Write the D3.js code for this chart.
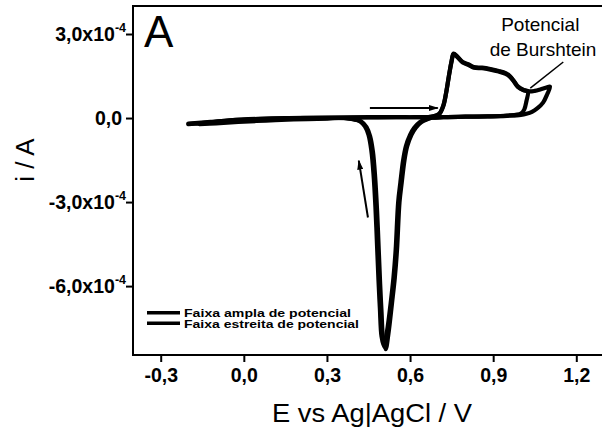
<!DOCTYPE html>
<html>
<head>
<meta charset="utf-8">
<script src="https://cdn.jsdelivr.net/npm/d3@7"></script>
<style>
  body { margin: 0; background: #fff; }
  svg { font-family: "Liberation Sans", Arial, sans-serif; }
  .tick-label { font-size: 19.5px; font-weight: bold; fill: #000; }
</style>
</head>
<body>
<svg id="chart" width="602" height="431"></svg>
<script>
/* cyclic voltammograms, current in units of 1e-4 A */

// wide potential window (-0.2 V .. 1.1 V)
const eWide = [-0.20, -0.12, -0.05, 0.05, 0.15, 0.25, 0.35, 0.45, 0.55, 0.62, 0.68, 0.705, 0.72, 0.73, 0.74, 0.75, 0.757, 0.77, 0.79, 0.81, 0.83, 0.86, 0.89, 0.92, 0.945, 0.96, 0.975, 0.99, 1.01, 1.03, 1.05, 1.07, 1.09, 1.105,
  1.095, 1.08, 1.06, 1.04, 1.02, 1.00, 0.95, 0.88, 0.80, 0.72, 0.68, 0.66, 0.64, 0.62, 0.605, 0.59, 0.58, 0.57, 0.562, 0.553, 0.545, 0.535, 0.522, 0.512, 0.503, 0.497, 0.492, 0.487, 0.481, 0.474, 0.466, 0.456, 0.443, 0.425, 0.40, 0.37, 0.30, 0.18, 0.08, -0.02, -0.10, -0.16, -0.20];
const iWide = [-0.22, -0.15, -0.08, -0.04, -0.01, 0.01, 0.02, 0.03, 0.03, 0.03, 0.05, 0.15, 0.45, 0.9, 1.5, 2.05, 2.3, 2.2, 2.0, 1.92, 1.82, 1.8, 1.75, 1.68, 1.6, 1.5, 1.32, 1.12, 1.0, 0.95, 0.97, 1.02, 1.08, 1.12,
  0.85, 0.55, 0.35, 0.22, 0.15, 0.11, 0.08, 0.06, 0.05, 0.03, 0.01, -0.05, -0.15, -0.35, -0.6, -1.0, -1.5, -2.3, -3.0, -4.7, -5.7, -6.6, -7.7, -8.25, -7.9, -6.9, -5.9, -4.7, -3.3, -2.1, -1.2, -0.65, -0.32, -0.13, -0.05, 0.0, -0.02, -0.05, -0.09, -0.14, -0.19, -0.22];

// narrow potential window (-0.2 V .. 1.025 V)
const eNarrow = [-0.20, -0.12, -0.05, 0.05, 0.15, 0.25, 0.35, 0.45, 0.55, 0.62, 0.68, 0.705, 0.72, 0.73, 0.74, 0.75, 0.757, 0.77, 0.79, 0.81, 0.83, 0.86, 0.89, 0.92, 0.945, 0.96, 0.975, 0.99, 1.01, 1.025,
  1.02, 1.012, 1.00, 0.95, 0.88, 0.80, 0.72, 0.68, 0.655, 0.635, 0.615, 0.6, 0.585, 0.575, 0.565, 0.557, 0.548, 0.54, 0.53, 0.517, 0.506, 0.497, 0.491, 0.486, 0.481, 0.475, 0.468, 0.46, 0.45, 0.437, 0.42, 0.395, 0.365, 0.30, 0.18, 0.08, -0.02, -0.10, -0.16, -0.20];
const iNarrow = [-0.20, -0.14, -0.08, -0.03, 0.0, 0.01, 0.02, 0.02, 0.03, 0.03, 0.05, 0.14, 0.43, 0.88, 1.48, 2.02, 2.28, 2.18, 1.98, 1.9, 1.8, 1.78, 1.73, 1.66, 1.58, 1.48, 1.3, 1.1, 0.99, 0.95,
  0.6, 0.3, 0.16, 0.09, 0.06, 0.05, 0.03, 0.01, -0.05, -0.15, -0.35, -0.6, -1.0, -1.5, -2.3, -3.0, -4.7, -5.7, -6.6, -7.6, -8.15, -7.8, -6.8, -5.8, -4.6, -3.2, -2.0, -1.15, -0.6, -0.3, -0.12, -0.04, 0.0, 0.0, -0.02, -0.05, -0.09, -0.14, -0.18, -0.21];

const xTicks = [-0.3, 0.0, 0.3, 0.6, 0.9, 1.2];
const xTickLabels = ['-0,3', '0,0', '0,3', '0,6', '0,9', '1,2'];
const yTicks = [3, 0, -3, -6];
const yTickLabels = ['3,0x10', '0,0', '-3,0x10', '-6,0x10'];
const legendLabels = ['Faixa ampla de potencial', 'Faixa estreita de potencial'];

const svg = d3.select('#chart');
const margin = {top: 6, right: -2, bottom: 76, left: 133};
const width = +svg.attr('width') - margin.left - margin.right;
const height = +svg.attr('height') - margin.top - margin.bottom;

const x = d3.scaleLinear().domain([-0.4, 1.3]).range([0, width]);
const y = d3.scaleLinear().domain([-8.46, 4.0]).range([height, 0]);

const g = svg.append('g').attr('transform', `translate(${margin.left},${margin.top})`);

// curves
const line = d3.line()
  .x(d => x(d[0]))
  .y(d => y(d[1]))
  .curve(d3.curveCatmullRom.alpha(0.5));

const series = [d3.zip(eWide, iWide), d3.zip(eNarrow, iNarrow)];
g.selectAll('path.cv')
  .data(series)
  .join('path')
  .attr('class', 'cv')
  .attr('d', line)
  .attr('fill', 'none')
  .attr('stroke', '#000')
  .attr('stroke-width', 4.2)
  .attr('stroke-linejoin', 'round')
  .attr('stroke-linecap', 'round');

// frame
g.append('rect')
  .attr('width', width).attr('height', height)
  .attr('fill', 'none').attr('stroke', '#000').attr('stroke-width', 2);

// x axis: major + minor ticks
const xAxisG = g.append('g').attr('transform', `translate(0,${height})`);
xAxisG.call(d3.axisBottom(x).tickValues(d3.range(-0.3, 1.3, 0.15)).tickSize(4).tickFormat(''));
xAxisG.call(d3.axisBottom(x).tickValues(xTicks).tickSize(7).tickPadding(6)
  .tickFormat((d, i) => xTickLabels[i]));
xAxisG.selectAll('.domain').remove();
xAxisG.selectAll('line').attr('stroke-width', 2);
xAxisG.selectAll('text').attr('class', 'tick-label')
  .style('font-size', '19.5px').style('font-family', 'Liberation Sans, Arial, sans-serif');

// y axis: major + minor ticks
const yAxisG = g.append('g');
yAxisG.call(d3.axisLeft(y).tickValues(d3.range(-7.5, 4, 1.5)).tickSize(4).tickFormat(''));
yAxisG.call(d3.axisLeft(y).tickValues(yTicks).tickSize(7).tickPadding(4).tickFormat(''));
yAxisG.selectAll('.domain').remove();
yAxisG.selectAll('line').attr('stroke-width', 2);

yTicks.forEach((v, i) => {
  const t = yAxisG.append('text')
    .attr('class', 'tick-label')
    .attr('x', v === 0 ? -11 : -7)
    .attr('y', y(v) + 7)
    .attr('text-anchor', 'end');
  t.append('tspan').text(yTickLabels[i]);
  if (v !== 0) {
    t.append('tspan').attr('dy', -9).style('font-size', '12.5px').text('-4');
  }
});

// axis titles
svg.append('text')
  .attr('x', 372)
  .attr('y', 422)
  .attr('text-anchor', 'middle')
  .attr('textLength', 200)
  .attr('lengthAdjust', 'spacingAndGlyphs')
  .style('font-size', '25px')
  .text('E vs Ag|AgCl /  V');

svg.append('text')
  .attr('transform', `translate(34,${margin.top + y(-1.5)}) rotate(-90)`)
  .attr('text-anchor', 'middle')
  .style('font-size', '26px')
  .text('i / A');

// panel letter
g.append('text')
  .attr('x', 11).attr('y', 41)
  .style('font-size', '44px')
  .text('A');

// scan direction arrows
g.append('defs').append('marker')
  .attr('id', 'head')
  .attr('viewBox', '0 0 10 6')
  .attr('refX', 9).attr('refY', 3)
  .attr('markerWidth', 10).attr('markerHeight', 6)
  .attr('markerUnits', 'userSpaceOnUse')
  .attr('orient', 'auto')
  .append('path').attr('d', 'M0,0 L10,3 L0,6 Z').attr('fill', '#000');

const arrows = [
  [[0.455, 0.36], [0.70, 0.36]],
  [[0.448, -3.55], [0.415, -1.52]]
];
g.selectAll('line.arrow')
  .data(arrows)
  .join('line')
  .attr('class', 'arrow')
  .attr('x1', d => x(d[0][0])).attr('y1', d => y(d[0][1]))
  .attr('x2', d => x(d[1][0])).attr('y2', d => y(d[1][1]))
  .attr('stroke', '#000').attr('stroke-width', 2)
  .attr('marker-end', 'url(#head)');

// Burshtein annotation
g.append('line')
  .attr('x1', x(1.153)).attr('y1', y(2.0))
  .attr('x2', x(1.034)).attr('y2', y(1.07))
  .attr('stroke', '#000').attr('stroke-width', 1.5);
g.append('text')
  .attr('x', x(1.07)).attr('y', y(3.12))
  .attr('text-anchor', 'middle')
  .style('font-size', '19px')
  .text('Potencial');
g.append('text')
  .attr('x', x(1.08)).attr('y', y(2.2))
  .attr('text-anchor', 'middle')
  .style('font-size', '19px')
  .text('de Burshtein');

// legend
const legend = g.selectAll('g.legend')
  .data(legendLabels)
  .join('g')
  .attr('class', 'legend')
  .attr('transform', (d, i) => `translate(14,${y(-6.95) + i * 10.5})`);
legend.append('line')
  .attr('x1', 0).attr('x2', 33)
  .attr('stroke', '#000').attr('stroke-width', 3.5);
legend.append('text')
  .attr('x', 37).attr('y', 4.5)
  .attr('textLength', (d, i) => i === 0 ? 167 : 175)
  .attr('lengthAdjust', 'spacingAndGlyphs')
  .style('font-size', '11px').style('font-weight', 'bold')
  .text(d => d);
</script>
</body>
</html>
